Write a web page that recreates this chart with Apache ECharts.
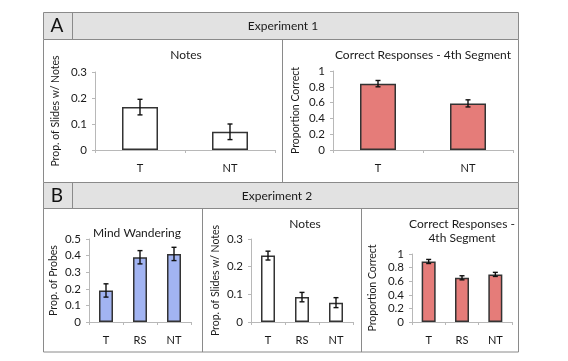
<!DOCTYPE html>
<html><head><meta charset="utf-8">
<script src="https://cdn.jsdelivr.net/npm/echarts@6/dist/echarts.min.js"></script>
<style>html,body{margin:0;padding:0;background:#fff}#c{width:568px;height:361px}</style>
</head><body><div id="c"></div>
<script>
// ---- data ----
const cats1 = ['T', 'NT'];
const cats2 = ['T', 'RS', 'NT'];
const exp1Notes = [0.165, 0.07];
const exp1NotesErr = [0.03, 0.03];
const exp1Correct = [0.84, 0.59];
const exp1CorrectErr = [0.04, 0.045];
const exp2Mind = [0.19, 0.39, 0.41];
const exp2MindErr = [0.04, 0.04, 0.04];
const exp2Notes = [0.24, 0.09, 0.07];
const exp2NotesErr = [0.016, 0.017, 0.018];
const exp2Correct = [0.89, 0.65, 0.70];
const exp2CorrectErr = [0.03, 0.03, 0.03];

const FONT = 'Lato';
const BLUE = '#a2b4f2';
const RED = '#e57c79';
const chart = echarts.init(document.getElementById('c'), null, {renderer: 'canvas'});

const panels = [
  {grid: {left: 95, top: 72, width: 180, height: 78}, cats: cats1, vals: exp1Notes, errs: exp1NotesErr, max: 0.3, interval: 0.1, color: '#ffffff', bw: 36, name: 'Prop. of Slides w/ Notes', gap: 34},
  {grid: {left: 333, top: 71, width: 180, height: 79}, cats: cats1, vals: exp1Correct, errs: exp1CorrectErr, max: 1, interval: 0.2, color: RED, bw: 36, name: 'Proportion Correct', gap: 32},
  {grid: {left: 89, top: 239, width: 102, height: 83}, cats: cats2, vals: exp2Mind, errs: exp2MindErr, max: 0.5, interval: 0.1, color: BLUE, bw: 14, name: 'Prop. of Probes', gap: 30},
  {grid: {left: 251, top: 239, width: 102, height: 83}, cats: cats2, vals: exp2Notes, errs: exp2NotesErr, max: 0.3, interval: 0.1, color: '#ffffff', bw: 14, name: 'Prop. of Slides w/ Notes', gap: 30},
  {grid: {left: 412, top: 254, width: 100, height: 68}, cats: cats2, vals: exp2Correct, errs: exp2CorrectErr, max: 1, interval: 0.2, color: RED, bw: 14, name: 'Proportion Correct', gap: 34}
];

const grids = [], xAxes = [], yAxes = [], series = [];
panels.forEach((p, i) => {
  grids.push(Object.assign({containLabel: false}, p.grid));
  xAxes.push({type: 'category', gridIndex: i, data: p.cats,
    axisLine: {lineStyle: {color: '#b8b8b8', width: 1}},
    axisTick: {show: true, length: 3, lineStyle: {color: '#b8b8b8'}},
    axisLabel: {color: '#1a1a1a', fontFamily: FONT, fontSize: 11, margin: 13}});
  yAxes.push({type: 'value', gridIndex: i, min: 0, max: p.max, interval: p.interval,
    name: p.name, nameLocation: 'middle', nameGap: p.gap, nameRotate: 90,
    nameTextStyle: {color: '#1a1a1a', fontFamily: FONT, fontSize: 10.5},
    axisLine: {show: true, lineStyle: {color: '#b8b8b8'}},
    axisTick: {show: true, length: 3, lineStyle: {color: '#b8b8b8'}},
    splitLine: {show: false},
    axisLabel: {color: '#1a1a1a', fontFamily: FONT, fontSize: 11.5, margin: 8,
      formatter: v => String(Math.round(v * 10) / 10)}});
  series.push({type: 'bar', xAxisIndex: i, yAxisIndex: i, data: p.vals, barWidth: p.bw,
    itemStyle: {color: p.color, borderColor: '#333', borderWidth: 1.5}, silent: true});
  series.push({type: 'custom', xAxisIndex: i, yAxisIndex: i, z: 10, silent: true,
    data: p.vals.map((v, k) => [k, v - p.errs[k], v + p.errs[k]]),
    renderItem: (params, api) => {
      const lo = api.coord([api.value(0), api.value(1)]);
      const hi = api.coord([api.value(0), api.value(2)]);
      const c = 2.5;
      const st = {stroke: '#111', lineWidth: 1.4};
      return {type: 'group', children: [
        {type: 'line', shape: {x1: lo[0], y1: lo[1], x2: hi[0], y2: hi[1]}, style: st},
        {type: 'line', shape: {x1: lo[0] - c, y1: lo[1], x2: lo[0] + c, y2: lo[1]}, style: st},
        {type: 'line', shape: {x1: hi[0] - c, y1: hi[1], x2: hi[0] + c, y2: hi[1]}, style: st}
      ]};
    }});
});

const titles = [
  {text: 'Notes', x: 186, y: 55},
  {text: 'Correct Responses - 4th Segment', x: 423, y: 55},
  {text: 'Mind Wandering', x: 137, y: 233},
  {text: 'Notes', x: 305, y: 224},
  {text: 'Correct Responses -\n4th Segment', x: 462, y: 231}
];

const B = '#8a8a8a', HF = '#e2e2e2';
const ln = (x1, y1, x2, y2) => ({type: 'line', shape: {x1, y1, x2, y2}, style: {stroke: B, lineWidth: 1}, silent: true});
const graphic = [
  {type: 'rect', shape: {x: 43.5, y: 12.5, width: 475, height: 27}, style: {fill: HF, stroke: B, lineWidth: 1}, silent: true},
  ln(72.5, 12.5, 72.5, 39.5),
  {type: 'rect', shape: {x: 43.5, y: 182.5, width: 475, height: 26}, style: {fill: HF, stroke: B, lineWidth: 1}, silent: true},
  ln(72.5, 182.5, 72.5, 208.5),
  ln(43.5, 39.5, 43.5, 182.5), ln(518.5, 39.5, 518.5, 182.5), ln(282.5, 39.5, 282.5, 182.5),
  {type: 'rect', shape: {x: 43.5, y: 208.5, width: 475, height: 143.5}, style: {fill: 'none', stroke: B, lineWidth: 1}, silent: true},
  ln(202.5, 208.5, 202.5, 352), ln(361.5, 208.5, 361.5, 352),
  {type: 'text', x: 57, y: 26, style: {text: 'A', fill: '#111', font: '19px ' + FONT, textAlign: 'center', textVerticalAlign: 'middle'}, silent: true},
  {type: 'text', x: 57, y: 195.5, style: {text: 'B', fill: '#111', font: '19px ' + FONT, textAlign: 'center', textVerticalAlign: 'middle'}, silent: true},
  {type: 'text', x: 283, y: 26, style: {text: 'Experiment 1', fill: '#1a1a1a', font: '12px ' + FONT, textAlign: 'center', textVerticalAlign: 'middle'}, silent: true},
  {type: 'text', x: 277, y: 196, style: {text: 'Experiment 2', fill: '#1a1a1a', font: '12px ' + FONT, textAlign: 'center', textVerticalAlign: 'middle'}, silent: true}
].concat(titles.map(t => ({type: 'text', x: t.x, y: t.y, silent: true,
  style: {text: t.text, fill: '#1a1a1a', font: '12px ' + FONT, textAlign: 'center', textVerticalAlign: 'middle', lineHeight: 14}})));

chart.setOption({
  animation: false,
  backgroundColor: '#fff',
  grid: grids, xAxis: xAxes, yAxis: yAxes, series: series,
  graphic: graphic
});
</script></body></html>
